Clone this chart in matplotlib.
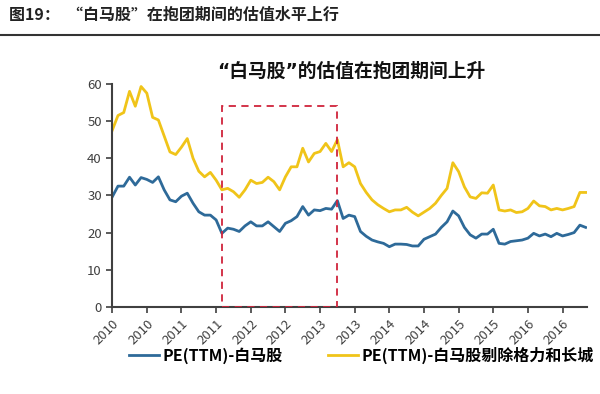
import numpy as np
import matplotlib
matplotlib.use("Agg")
import matplotlib.pyplot as plt
from matplotlib.patches import Rectangle

plt.rcParams['font.family'] = ['Noto Sans CJK SC', 'DejaVu Sans']

# monthly PE(TTM), Jan 2010 .. Nov 2016
pe_all = [29.6, 32.5, 32.5, 34.9, 32.8, 34.8, 34.3, 33.5, 35.0, 31.5,
          28.8, 28.3, 29.8, 30.6, 27.9, 25.6, 24.7, 24.7, 23.4, 19.8,
          21.2, 20.9, 20.3, 21.8, 22.9, 21.8, 21.8, 22.9, 21.6, 20.3,
          22.5, 23.2, 24.3, 27.0, 24.7, 26.1, 25.9, 26.5, 26.3, 28.6,
          23.8, 24.7, 24.3, 20.3, 19.0, 18.0, 17.5, 17.1, 16.2, 16.9,
          16.9, 16.8, 16.4, 16.4, 18.2, 18.9, 19.6, 21.4, 22.9, 25.8,
          24.5, 21.4, 19.4, 18.5, 19.6, 19.6, 20.9, 17.1, 16.9, 17.6,
          17.8, 18.0, 18.5, 19.8, 19.1, 19.6, 18.9, 19.8, 19.1, 19.5,
          20.0, 22.0, 21.4]
pe_ex = [47.5, 51.5, 52.3, 58.0, 54.0, 59.3, 57.5, 51.0, 50.3, 46.0,
         41.7, 41.0, 43.0, 45.3, 40.0, 36.5, 35.0, 36.2, 34.1, 31.5,
         31.9, 31.0, 29.5, 31.5, 34.1, 33.2, 33.5, 34.9, 33.7, 31.5,
         35.0, 37.7, 37.7, 42.7, 39.0, 41.3, 41.8, 44.0, 41.8, 45.0,
         37.7, 38.8, 37.7, 33.2, 30.8, 28.8, 27.5, 26.5, 25.6, 26.1,
         26.1, 26.8, 25.5, 24.5, 25.5, 26.5, 27.9, 30.0, 31.9, 38.8,
         36.4, 32.3, 29.6, 29.2, 30.7, 30.6, 32.8, 26.1, 25.8, 26.1,
         25.4, 25.6, 26.5, 28.5, 27.2, 27.0, 26.1, 26.5, 26.1, 26.5,
         27.0, 30.8, 30.8]
tick_labels = ['2010', '2010', '2011', '2011', '2012', '2012', '2013',
               '2013', '2014', '2014', '2015', '2015', '2016', '2016']
box_start, box_end, box_top = 19, 39, 54

x = np.arange(len(pe_all))

fig = plt.figure(figsize=(6, 3.94), dpi=100)
ax = fig.add_axes([0.187, 0.221, 0.791, 0.566])

l1, = ax.plot(x, pe_all, color='#2E6A99', lw=2, label='PE(TTM)-白马股')
l2, = ax.plot(x, pe_ex, color='#F0C419', lw=2, label='PE(TTM)-白马股剔除格力和长城')
ax.add_patch(Rectangle((box_start, 0), box_end - box_start, box_top, fill=False,
                       edgecolor='#D0243C', lw=1.3, ls=(0, (4, 3)), zorder=3))

ax.set_xlim(0, 82.2)
ax.set_ylim(0, 60)
ax.set_yticks(range(0, 61, 10))
ax.set_xticks(range(0, 6 * len(tick_labels), 6))
ax.set_xticklabels(tick_labels, rotation=45, ha='right', rotation_mode='anchor')
ax.tick_params(colors='#404040', labelsize=9.5, width=1.2, length=4)
for s in ['top', 'right']:
    ax.spines[s].set_visible(False)
for s in ['left', 'bottom']:
    ax.spines[s].set_color('#404040')
    ax.spines[s].set_linewidth(1.5)

fig.text(0.015, 0.963, '图19：  “白马股”在抱团期间的估值水平上行', fontsize=11.5,
         fontweight='bold', color='#222222', va='center', ha='left')
fig.add_artist(plt.Line2D([0, 1], [0.91, 0.91], color='#333333', lw=1.5))
fig.text(0.585, 0.82, '“白马股”的估值在抱团期间上升', fontsize=13.5,
         fontweight='bold', color='#111111', ha='center', va='center',
         family=['DejaVu Sans', 'Noto Sans CJK SC'])

leg = fig.legend(handles=[l1, l2], loc='center', bbox_to_anchor=(0.602, 0.098), ncol=2,
                 frameon=False, handlelength=1.9, columnspacing=2.8, handletextpad=0.2,
                 borderpad=0.2, prop={'weight': 'bold', 'size': 11.5})

fig.savefig('out.png', dpi=100)
